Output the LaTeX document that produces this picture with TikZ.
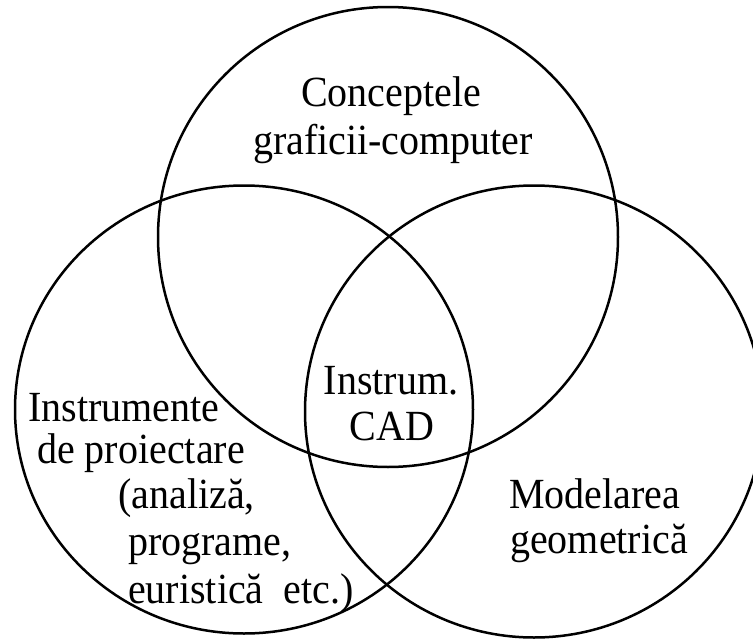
\documentclass[tikz,border=0pt]{standalone}
\usepackage{fontspec}
\setmainfont{Liberation Serif}
% slightly condensed serif lettering
\newcommand{\narrowtext}[1]{\scalebox{0.93}[1]{#1}}
\begin{document}
\begin{tikzpicture}[x=1pt,y=-1pt,
  ring/.style={line width=2.5pt, black},
  lbl/.style={inner sep=0pt, font=\fontsize{43}{50}\selectfont, anchor=base},
  lbll/.style={lbl, anchor=base west}]
\useasboundingbox (0,0) rectangle (753,640);

% three overlapping sets
\draw[ring] (388,237) ellipse [x radius=230, y radius=230];
\draw[ring] (244,409.5) ellipse [x radius=229, y radius=224];
\draw[ring] (534,411.5) ellipse [x radius=229, y radius=226];

% top set
\node[lbl] (conc1) at (391,106) {\narrowtext{Conceptele}};
\node[lbl] (conc2) at (393,154) {\narrowtext{graficii-computer}};

% common intersection
\node[lbl] (cad1) at (391,394) {\narrowtext{Instrum.}};
\node[lbl] (cad2) at (392,440) {\narrowtext{CAD}};

% left set
\node[lbll] (proi1) at (28,421) {\narrowtext{Instrumente}};
\node[lbll] (proi2) at (37,463) {\narrowtext{de proiectare}};
\node[lbll] (proi3) at (118,508) {\narrowtext{(analiză,}};
\node[lbll] (proi4) at (128,555) {\narrowtext{programe,}};
\node[lbll] (proi5) at (128,603) {\narrowtext{euristică\ \ etc.)}};

% right set
\node[lbll] (mod1) at (509,508) {\narrowtext{Modelarea}};
\node[lbll] (mod2) at (510,553) {\narrowtext{geometrică}};
\end{tikzpicture}
\end{document}
